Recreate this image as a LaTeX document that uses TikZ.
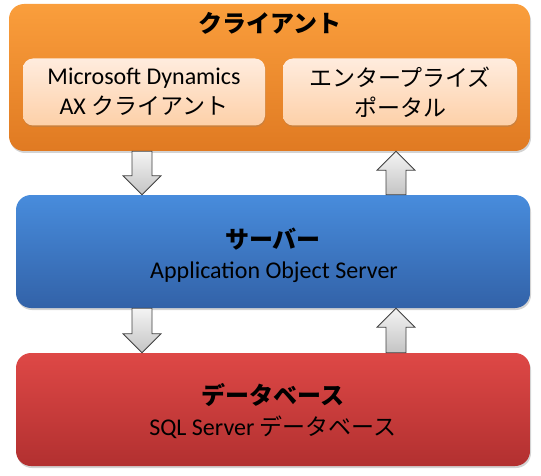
\documentclass[tikz,border=0pt]{standalone}
\usepackage{fontspec}
\setmainfont{Carlito}
\newfontfamily\jp{Noto Sans CJK JP}
\usetikzlibrary{calc,shadows}
\definecolor{orTop}{RGB}{250,158,60}
\definecolor{orBot}{RGB}{224,122,34}
\definecolor{blTop}{RGB}{72,140,220}
\definecolor{blBot}{RGB}{50,98,168}
\definecolor{rdTop}{RGB}{222,72,70}
\definecolor{rdBot}{RGB}{178,48,48}
\definecolor{inTop}{RGB}{255,236,222}
\definecolor{inBot}{RGB}{253,208,168}
\definecolor{arTop}{RGB}{244,244,244}
\definecolor{arBot}{RGB}{196,196,196}
\definecolor{arLine}{RGB}{64,64,64}
\tikzset{
  bigbox/.style={rounded corners=15pt, inner sep=0pt, draw=none,
    drop shadow={opacity=0.35, shadow xshift=1pt, shadow yshift=-2pt}},
  clientbox/.style={bigbox, top color=orTop, bottom color=orBot},
  serverbox/.style={bigbox, top color=blTop, bottom color=blBot},
  dbbox/.style={bigbox, top color=rdTop, bottom color=rdBot},
  innerbox/.style={rounded corners=10pt, inner sep=0pt, draw=none,
    top color=inTop, bottom color=inBot, align=center,
    drop shadow={opacity=0.25, shadow xshift=0.5pt, shadow yshift=-1.5pt}},
  titletext/.style={font=\jp\bfseries\fontsize{24}{28}\selectfont, inner sep=0pt},
  subtext/.style={font=\fontsize{24}{28}\selectfont, inner sep=0pt},
  blockarr/.style={draw=arLine, line width=0.8pt, line join=miter,
    top color=arTop, bottom color=arBot},
}
\newcommand\jps{\jp\fontsize{23}{28}\selectfont}
\newcommand\barrow[2]{%
  \draw[blockarr] ($(#1)+(-10,0)$) -- ($($(#2)!19pt!(#1)$)+(-10,0)$)
    -- ($($(#2)!19pt!(#1)$)+(-19,0)$) -- (#2)
    -- ($($(#2)!19pt!(#1)$)+(19,0)$) -- ($($(#2)!19pt!(#1)$)+(10,0)$)
    -- ($(#1)+(10,0)$) -- cycle;}
\begin{document}
\begin{tikzpicture}[x=1pt,y=-1pt]
\useasboundingbox (0,0) rectangle (541,476);
% boxes
\node[clientbox, minimum width=521pt, minimum height=147pt] (client) at (269.5,77.5) {};
\node[titletext] (ctitle) at (270,23) {クライアント};
\node[innerbox, minimum width=242pt, minimum height=67pt, font=\fontsize{24}{30}\selectfont] (axclient) at (144,92)
  {Microsoft Dynamics\\AX {\jps クライアント}};
\node[innerbox, minimum width=234pt, minimum height=67pt, font=\jp\fontsize{23}{30}\selectfont] (portal) at (400,92)
  {エンタープライズ\\ポータル};
\node[serverbox, minimum width=514pt, minimum height=113pt] (server) at (273,251.5) {};
\node[titletext] (stitle) at (273,239) {サーバー};
\node[subtext] (ssub) at (274,272) {Application Object Server};
\node[dbbox, minimum width=514pt, minimum height=113pt] (db) at (273,409.5) {};
\node[titletext] (dtitle) at (273,395) {データベース};
\node[subtext] (dsub) at (273,427) {SQL Server {\jps データベース}};
% arrow anchor columns
\coordinate (colD) at (142,0);
\coordinate (colU) at (396,0);
\coordinate (a1s) at (client.south -| colD);
\coordinate (a1e) at (server.north -| colD);
\coordinate (a2s) at (server.north -| colU);
\coordinate (a2e) at (client.south -| colU);
\coordinate (a3s) at (server.south -| colD);
\coordinate (a3e) at (db.north -| colD);
\coordinate (a4s) at (db.north -| colU);
\coordinate (a4e) at (server.south -| colU);
\barrow{a1s}{a1e}
\barrow{a2s}{a2e}
\barrow{a3s}{a3e}
\barrow{a4s}{a4e}
\end{tikzpicture}
\end{document}
